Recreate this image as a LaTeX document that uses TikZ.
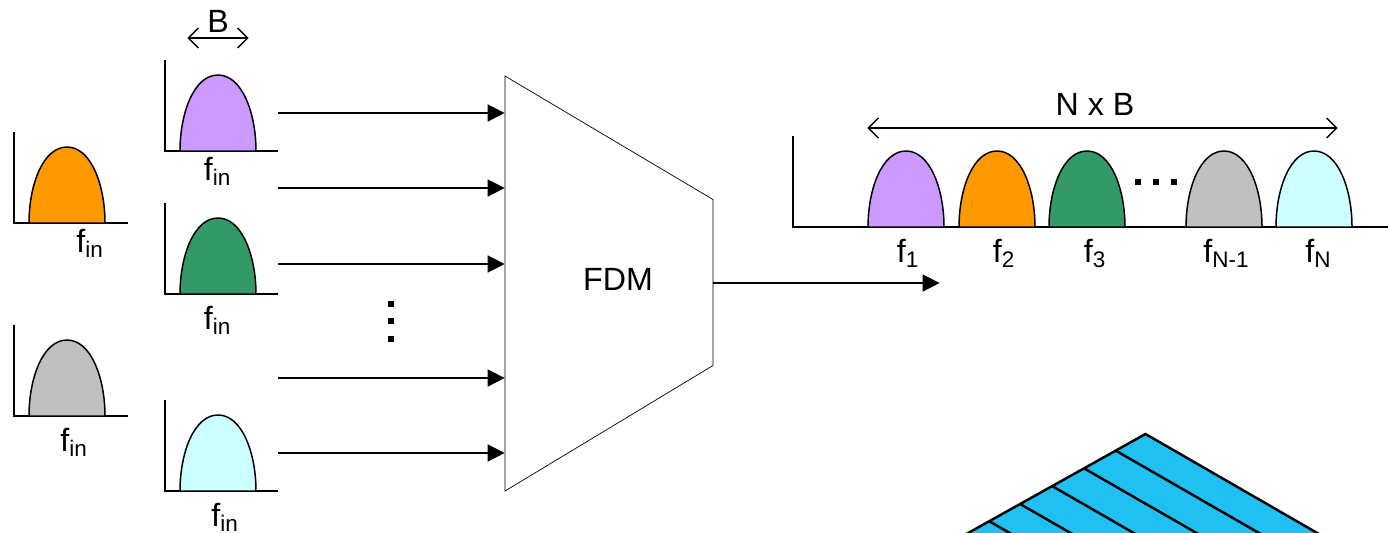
\documentclass[tikz,border=0pt]{standalone}
\usepackage{fontspec}
\setmainfont{Liberation Sans}
\usetikzlibrary{arrows.meta}
\definecolor{Lilac}{HTML}{CC99FF}
\definecolor{Amber}{HTML}{FF9900}
\definecolor{Jade}{HTML}{339966}
\definecolor{Ash}{HTML}{C0C0C0}
\definecolor{Ice}{HTML}{CCFFFF}
\definecolor{Panel}{HTML}{20C0F2}
\newcommand{\Hump}[3]{\draw [HumpLine, fill=#3] (#1,#2) .. controls (#1,#2-38) and (#1+14,#2-76) .. (#1+38,#2-76) .. controls (#1+62,#2-76) and (#1+76,#2-38) .. (#1+76,#2) -- cycle;}
\newcommand{\Axes}[3]{\draw [AxisLine] (#1,#2-91) -- (#1,#2) -- (#3,#2);}
\begin{document}
\begin{tikzpicture}[x=0.02cm, y=-0.02cm]
	\tikzstyle{HumpLine}	= [line width=0.85pt, draw=black]
	\tikzstyle{AxisLine}	= [line width=0.85pt, draw=black]
	\tikzstyle{Label}	= [font=\fontsize{18.3}{20}\selectfont, inner sep=0pt, anchor=base]
	\tikzstyle{Anchor}	= [inner sep=0pt, minimum size=0pt]
	\tikzstyle{Feed}	= [line width=0.85pt, -{Triangle[length=0.34cm, width=0.34cm]}]
	\tikzstyle{Span}	= [line width=0.85pt, {Straight Barb[length=0.2cm, width=0.4cm]}-{Straight Barb[length=0.2cm, width=0.4cm]}]
	\tikzstyle{Dot}		= [fill=black, inner sep=0pt, minimum width=0.12cm, minimum height=0.12cm]
	\tikzstyle{PanelLine}	= [line width=1.4pt, draw=black]

	\useasboundingbox (0,0) rectangle (1388,532);

	\Axes{14}{223}{128}
	\Hump{29}{223}{Amber}
	\node (f0) at (90,252) [Label] {f\textsubscript{in}};
	\Axes{14}{416}{128}
	\Hump{29}{416}{Ash}
	\node (f9) at (74,451) [Label] {f\textsubscript{in}};

	\Axes{165}{151}{278}
	\Hump{180}{151}{Lilac}
	\node (a1) at (217.5,180) [Label] {f\textsubscript{in}};
	\Axes{165}{294}{278}
	\Hump{180}{294}{Jade}
	\node (a2) at (217.5,329) [Label] {f\textsubscript{in}};
	\Axes{165}{491}{278}
	\Hump{180}{491}{Ice}
	\node (a3) at (225,526) [Label] {f\textsubscript{in}};

	\node (B) at (218,32) [Label] {B};
	\node (bl) at (187,38) [Anchor] {};
	\node (br) at (249,38) [Anchor] {};
	\draw (bl) to (br) [Span];

	\draw [line width=0.4pt, fill=white] (505,76) coordinate (m1) -- (713,199.5) coordinate (m2) -- (713,365.5) coordinate (m3) -- (505,491) coordinate (m4) -- cycle;
	\node (FDM) at (618,290) [Label] {FDM};

	\node (s1) at (278,113) [Anchor] {};
	\node (t1) at (505,113) [Anchor] {};
	\node (s2) at (278,188) [Anchor] {};
	\node (t2) at (505,188) [Anchor] {};
	\node (s3) at (278,264) [Anchor] {};
	\node (t3) at (505,264) [Anchor] {};
	\node (s4) at (278,378) [Anchor] {};
	\node (t4) at (505,378) [Anchor] {};
	\node (s5) at (278,453) [Anchor] {};
	\node (t5) at (505,453) [Anchor] {};
	\draw (s1) to (t1) [Feed];
	\draw (s2) to (t2) [Feed];
	\draw (s3) to (t3) [Feed];
	\draw (s4) to (t4) [Feed];
	\draw (s5) to (t5) [Feed];

	\node (d1) at (391,303.5) [Dot] {};
	\node (d2) at (391,321) [Dot] {};
	\node (d3) at (391,339) [Dot] {};

	\node (o1) at (713,283) [Anchor] {};
	\node (o2) at (940,283) [Anchor] {};
	\draw (o1) to (o2) [Feed];

	\Axes{793}{227}{1388}
	\Hump{868}{227}{Lilac}
	\Hump{959}{227}{Amber}
	\Hump{1049}{227}{Jade}
	\Hump{1186}{227}{Ash}
	\Hump{1276}{227}{Ice}
	\node (h1) at (1137.5,182) [Dot] {};
	\node (h2) at (1155.5,182) [Dot] {};
	\node (h3) at (1174,182) [Dot] {};

	\node (f1) at (908,262) [Label] {f\textsubscript{1}};
	\node (f2) at (1004,262) [Label] {f\textsubscript{2}};
	\node (f3) at (1095,262) [Label] {f\textsubscript{3}};
	\node (fn1) at (1226.5,262) [Label] {f\textsubscript{N-1}};
	\node (fn) at (1318.5,262) [Label] {f\textsubscript{N}};

	\node (NB) at (1095,115) [Label] {N x B};
	\node (nl) at (867,128) [Anchor] {};
	\node (nr) at (1338,128) [Anchor] {};
	\draw (nl) to (nr) [Span];

	\begin{scope}
		\clip (0,0) rectangle (1388,532);
		\draw [PanelLine, fill=Panel] (1145.5,434) -- (1345,549) -- (940,548.7) -- cycle;
		\draw [PanelLine] (1115.7,450.6) -- +(200,115);
		\draw [PanelLine] (1084,468.3) -- +(200,115);
		\draw [PanelLine] (1052,486) -- +(200,115);
		\draw [PanelLine] (1020,503.9) -- +(200,115);
		\draw [PanelLine] (989,521.1) -- +(200,115);
	\end{scope}
\end{tikzpicture}
\end{document}
